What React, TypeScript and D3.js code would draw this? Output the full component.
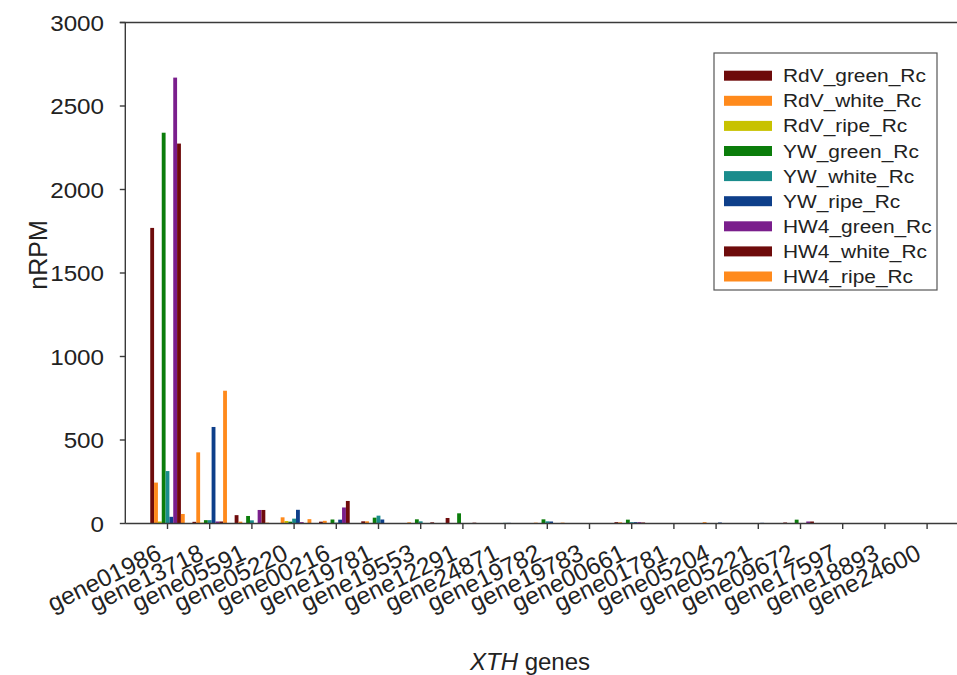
import React from "react";
import * as d3 from "d3";

const genes = ["gene01986","gene13718","gene05591","gene05220","gene00216","gene19781","gene19553","gene12291","gene24871","gene19782","gene19783","gene00661","gene01781","gene05204","gene05221","gene09672","gene17597","gene18893","gene24600"];

const seriesNames = ["RdV_green_Rc","RdV_white_Rc","RdV_ripe_Rc","YW_green_Rc","YW_white_Rc","YW_ripe_Rc","HW4_green_Rc","HW4_white_Rc","HW4_ripe_Rc"];
const seriesColors = ["#6e0b0b","#ff8a1c","#c8c200","#0b7d0b","#1a8c8c","#0e3f8a","#7a1e8c","#6e0b0b","#ff8a1c"];

const RdV_green = [1770, 10, 50, 0, 11, 13, 0, 33, 0, 0, 0, 8, 0, 0, 0, 6, 0, 0, 0];
const RdV_white = [245, 426, 11, 37, 16, 13, 7, 0, 0, 5, 0, 7, 0, 8, 0, 0, 0, 0, 0];
const RdV_ripe = [12, 5, 0, 15, 3, 0, 0, 0, 0, 0, 0, 3, 0, 0, 0, 0, 0, 0, 0];
const YW_green = [2340, 20, 45, 11, 24, 35, 25, 61, 0, 25, 0, 23, 0, 0, 0, 23, 0, 0, 0];
const YW_white = [314, 20, 19, 29, 5, 47, 13, 0, 4, 13, 0, 8, 0, 0, 0, 0, 0, 0, 0];
const YW_ripe = [40, 578, 0, 82, 23, 24, 0, 0, 4, 12, 0, 8, 0, 6, 4, 0, 0, 0, 0];
const HW4_green = [2670, 12, 81, 8, 96, 0, 0, 0, 0, 0, 0, 8, 0, 0, 0, 12, 0, 0, 0];
const HW4_white = [2275, 12, 81, 0, 135, 0, 7, 5, 0, 0, 0, 6, 0, 0, 0, 12, 0, 0, 0];
const HW4_ripe = [57, 795, 5, 26, 3, 0, 0, 0, 0, 5, 0, 0, 0, 0, 0, 0, 0, 0, 0];

const seriesValues = [RdV_green, RdV_white, RdV_ripe, YW_green, YW_white, YW_ripe, HW4_green, HW4_white, HW4_ripe];

const yTicks = [0, 500, 1000, 1500, 2000, 2500, 3000];

const FONT = "'Liberation Sans', Arial, Helvetica, sans-serif";
const AX = "#3a3a3a";

export default function App() {
  const W = 957, H = 675;
  const left = 125.3, bottom = 523.5, top = 22.5;
  const step = 42.2;
  const x = d3.scalePoint<string>().domain(genes).range([left, left + 20 * step]).padding(1);
  const groupW = 34.5;
  const inner = d3.scaleBand<string>().domain(seriesNames).range([-groupW / 2, groupW / 2]);
  const y = d3.scaleLinear().domain([0, 3000]).range([bottom, top]);

  const legX = 714, legY = 53, legW = 223, legH = 237;
  const rowStep = 25.1;

  return (
    <div style={{ position: "absolute", left: 0, top: 0 }}>
      <svg width={W} height={H} style={{ display: "block", background: "#fff" }} fontFamily={FONT}>
        {seriesNames.map((s, si) => (
          <g key={s} fill={seriesColors[si]}>
            {genes.map((g, gi) => {
              const v = seriesValues[si][gi];
              if (v <= 0) return null;
              return (
                <rect key={g} x={(x(g) as number) + (inner(s) as number)} width={inner.bandwidth()}
                  y={y(v)} height={y(0) - y(v)} />
              );
            })}
          </g>
        ))}
        <line x1={left} x2={W} y1={bottom} y2={bottom} stroke={AX} strokeWidth={1.4} />
        <line x1={left - 5.5} x2={W} y1={top} y2={top} stroke={AX} strokeWidth={1.4} />
        <line x1={left} x2={left} y1={top} y2={bottom} stroke={AX} strokeWidth={1.4} />
        {yTicks.map((t) => (
          <g key={t}>
            <line x1={left - 5.5} x2={left} y1={y(t)} y2={y(t)} stroke={AX} strokeWidth={1.4} />
            <text transform={`translate(104,${y(t) + 8}) scale(1.1,1)`} textAnchor="end" fontSize={22} fill="#222">{t}</text>
          </g>
        ))}
        {genes.map((g) => (
          <g key={g}>
            <line x1={x(g)} x2={x(g)} y1={bottom} y2={bottom + 5.5} stroke={AX} strokeWidth={1.4} />
            <text transform={`translate(${(x(g) as number) - 4.5},${bottom + 35}) rotate(-26)`} textAnchor="end" fontSize={24.5} fill="#222">{g}</text>
          </g>
        ))}
        <text transform={`translate(47,255) rotate(-90)`} textAnchor="middle" fontSize={25} fill="#222">nRPM</text>
        <text x={530} y={670} textAnchor="middle" fontSize={24} fill="#222">
          <tspan fontStyle="italic">XTH</tspan> genes
        </text>
        <rect x={legX} y={legY} width={legW} height={legH} fill="#fff" stroke="#555" strokeWidth={1.2} />
        {seriesNames.map((s, si) => {
          const cy = 75.7 + si * rowStep;
          return (
            <g key={s}>
              <rect x={724} y={cy - 5} width={48} height={10} fill={seriesColors[si]} />
              <text transform={`translate(783,${cy + 6.5}) scale(1.1,1)`} fontSize={19} fill="#222">{s}</text>
            </g>
          );
        })}
      </svg>
    </div>
  );
}
